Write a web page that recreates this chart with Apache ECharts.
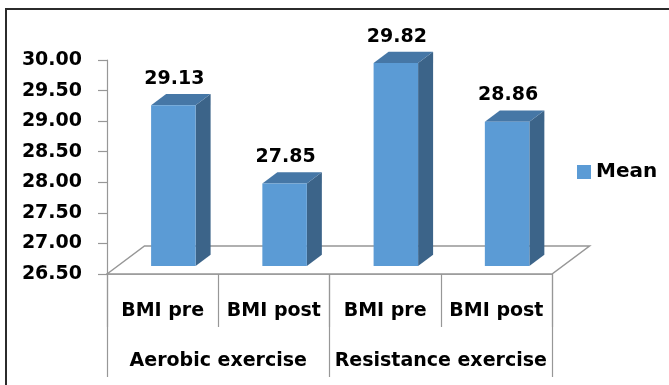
<!DOCTYPE html>
<html>
<head>
<meta charset="utf-8">
<script src="https://cdn.jsdelivr.net/npm/echarts@6/dist/echarts.min.js"></script>
<style>
html,body{margin:0;padding:0;background:#fff;}
#main{width:669px;height:385px;}
</style>
</head>
<body>
<div id="main"></div>
<script>
// ---- data ----
const categories = ['BMI pre', 'BMI post', 'BMI pre', 'BMI post'];
const groups = ['Aerobic exercise', 'Resistance exercise'];
const meanValues = [29.13, 27.85, 29.82, 28.86];
const seriesName = 'Mean';
const yMin = 26.5, yMax = 30, yStep = 0.5;

// ---- style constants ----
const FONT = 'DejaVu Sans';
const DX = 37.5, DY = -28;          // floor depth offset (px)
const D0 = 0.286, D1 = 0.686;       // bar depth range (fraction of floor depth)
const BAR_W = 0.4;                  // bar width as fraction of band
const FRONT = '#5B9BD5', TOP = '#4677A6', SIDE = '#3C6489';
const GRAY = '#979797';

const chart = echarts.init(document.getElementById('main'), null, {renderer: 'canvas'});

function renderFloor(params, api) {
  const bw = api.size([1, 0])[0];
  const c0 = api.coord([0, yMin]);
  const c3 = api.coord([categories.length - 1, yMin]);
  const l = c0[0] - bw / 2, r = c3[0] + bw / 2, y = c0[1];
  return {
    type: 'polygon',
    shape: {points: [[l, y], [l + DX, y + DY], [r + DX, y + DY], [r, y]]},
    style: {fill: '#ffffff', stroke: GRAY, lineWidth: 1.5}
  };
}

function renderBar(params, api) {
  const idx = api.value(0), v = api.value(1);
  const bw = api.size([1, 0])[0];
  const base = api.coord([idx, yMin]);
  const top = api.coord([idx, v]);
  const w = bw * BAR_W;
  const x0 = base[0] - w / 2 + D0 * DX, x1 = x0 + w;
  const yb = base[1] + D0 * DY, yt = top[1] + D0 * DY;
  const sx = (D1 - D0) * DX, sy = (D1 - D0) * DY;
  return {
    type: 'group',
    children: [
      {type: 'polygon', shape: {points: [[x1, yt], [x1 + sx, yt + sy], [x1 + sx, yb + sy], [x1, yb]]}, style: {fill: SIDE}},
      {type: 'polygon', shape: {points: [[x0, yt], [x0 + sx, yt + sy], [x1 + sx, yt + sy], [x1, yt]]}, style: {fill: TOP}},
      {type: 'rect', shape: {x: x0, y: yt, width: w, height: yb - yt}, style: {fill: FRONT}},
      {type: 'text', style: {x: (x0 + x1) / 2 + 1, y: yt + sy - 15, text: v.toFixed(2), fill: '#000',
        font: 'bold 19px "' + FONT + '"', align: 'center', verticalAlign: 'middle'}}
    ]
  };
}

const option = {
  backgroundColor: '#fff',
  animation: false,
  textStyle: {fontFamily: FONT},
  graphic: [{
    type: 'rect', silent: true, z: 100,
    shape: {x: 6, y: 9, width: 720, height: 420},
    style: {fill: 'none', stroke: '#2b2b2b', lineWidth: 2}
  }],
  legend: {
    data: [{name: seriesName, icon: 'rect'}],
    left: 577, top: 162, orient: 'vertical', padding: 0,
    itemWidth: 14, itemHeight: 14,
    textStyle: {fontFamily: FONT, fontWeight: 'bold', fontSize: 20, color: '#000'}
  },
  grid: {left: 107, top: 60, width: 445, height: 214},
  xAxis: [{
    type: 'category', data: categories, position: 'bottom',
    axisLine: {show: true, lineStyle: {color: GRAY, width: 1.5}},
    axisTick: {show: true, interval: 0, length: 53, lineStyle: {color: GRAY, width: 1.2}},
    axisLabel: {interval: 0, margin: 37, verticalAlign: 'middle', fontFamily: FONT, fontWeight: 'bold', fontSize: 19, color: '#000'},
    splitLine: {show: false}
  }, {
    type: 'category', data: groups, position: 'bottom', offset: 0,
    axisLine: {show: false},
    axisTick: {show: true, interval: 0, length: 103, lineStyle: {color: GRAY, width: 1.2}},
    axisLabel: {interval: 0, margin: 87, verticalAlign: 'middle', fontFamily: FONT, fontWeight: 'bold', fontSize: 19, color: '#000'},
    splitLine: {show: false}
  }],
  yAxis: {
    type: 'value', min: yMin, max: yMax, interval: yStep,
    axisLine: {show: true, lineStyle: {color: GRAY, width: 1.2}},
    axisTick: {show: true, length: 9, lineStyle: {color: GRAY, width: 1.2}},
    axisLabel: {margin: 25, formatter: v => v.toFixed(2), fontFamily: FONT, fontWeight: 'bold', fontSize: 19, color: '#000'},
    splitLine: {show: false}
  },
  series: [{
    type: 'custom', name: 'floor', z: 1, silent: true,
    xAxisIndex: 0, yAxisIndex: 0,
    renderItem: renderFloor,
    data: [[0, yMin]]
  }, {
    type: 'custom', name: seriesName, z: 2,
    xAxisIndex: 0, yAxisIndex: 0,
    itemStyle: {color: FRONT},
    renderItem: renderBar,
    encode: {x: 0, y: 1},
    data: meanValues.map((v, i) => [i, v])
  }]
};
chart.setOption(option);
</script>
</body>
</html>
